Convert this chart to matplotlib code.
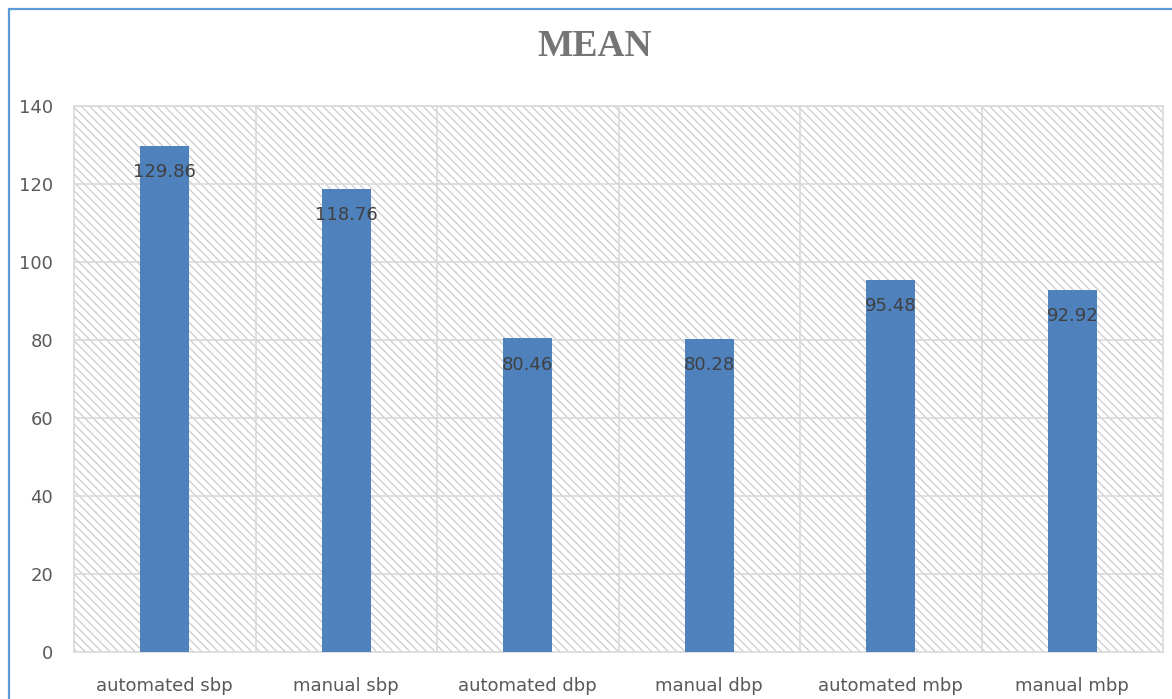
#!/usr/bin/env python3
"""Bar chart of mean blood pressure values (automated vs manual)."""

import matplotlib.pyplot as plt
from matplotlib.patches import Rectangle

categories = ["automated sbp", "manual sbp", "automated dbp",
              "manual dbp", "automated mbp", "manual mbp"]
means = [129.86, 118.76, 80.46, 80.28, 95.48, 92.92]
y_ticks = [0, 20, 40, 60, 80, 100, 120, 140]

GRID = "#d9d9d9"
TEXT = "#595959"
BAR = "#4f81bd"

fig = plt.figure(figsize=(11.72, 6.99), dpi=100)
ax = fig.add_axes([74 / 1172, 1 - 652 / 699, (1163 - 74) / 1172, (652 - 106) / 699])

# hatched plot-area background
plt.rcParams["hatch.linewidth"] = 0.9
ax.add_patch(Rectangle((0, 0), 1, 1, transform=ax.transAxes, fill=False,
                       hatch="\\\\\\\\", edgecolor="#cccccc", linewidth=0, zorder=0))

x = list(range(len(categories)))
ax.bar(x, means, width=0.27, color=BAR, zorder=3)

for xi, v in zip(x, means):
    ax.annotate(f"{v:.2f}", (xi, v), xytext=(0, -19), textcoords="offset points",
                ha="center", va="center", fontsize=13, color="#404040", zorder=4)

ax.set_xlim(-0.5, len(categories) - 0.5)
ax.set_ylim(0, 140)
ax.set_yticks(y_ticks)
ax.set_xticks(x)
ax.set_xticklabels(categories)
ax.tick_params(axis="both", length=0, labelsize=13, labelcolor=TEXT)
ax.tick_params(axis="y", pad=15)
ax.tick_params(axis="x", pad=18)

# gridlines: horizontal at ticks, vertical between categories
for yv in y_ticks[1:]:
    ax.axhline(yv, color=GRID, linewidth=1.2, zorder=1)
for xv in [i + 0.5 for i in x[:-1]]:
    ax.axvline(xv, color=GRID, linewidth=1.2, zorder=1)
for s in ax.spines.values():
    s.set_color(GRID)
    s.set_linewidth(1.2)

fig.text(595 / 1172, 1 - 47 / 699, "MEAN", ha="center", va="center",
         fontsize=27, fontweight="bold", color="#757575", family="Liberation Serif")

# outer chart border (clipped at right/bottom like the source)
fig.patches.append(Rectangle((9 / 1172, -0.05), 1.1, 1.05 - 9 / 699,
                             transform=fig.transFigure, fill=False,
                             edgecolor="#5b9bd5", linewidth=1.6))

plt.savefig("out.png", dpi=100)
